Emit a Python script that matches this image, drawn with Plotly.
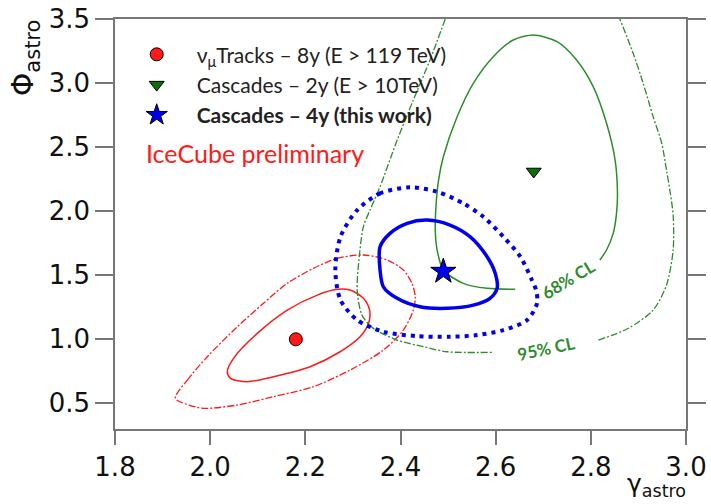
import plotly.graph_objects as go

# ---- best-fit points ----
tracks_x, tracks_y = [2.18], [1.00]
casc2_x, casc2_y = [2.68], [2.31]
casc4_x, casc4_y = [2.49], [1.53]

# ---- contours (gamma, phi) ----
tracks68_x = [2.036, 2.049, 2.099, 2.162, 2.225, 2.267, 2.294, 2.322, 2.335, 2.333, 2.315, 2.273, 2.210, 2.133, 2.078, 2.043, 2.036]
tracks68_y = [0.747, 0.851, 1.046, 1.228, 1.345, 1.390, 1.385, 1.320, 1.228, 1.125, 1.020, 0.903, 0.786, 0.708, 0.669, 0.695, 0.747]

tracks95_x = [1.927, 1.952, 1.994, 2.057, 2.112, 2.162, 2.217, 2.267, 2.322, 2.372, 2.406, 2.424, 2.431, 2.427, 2.406, 2.364, 2.294, 2.217, 2.133, 2.057, 1.994, 1.973, 1.927]
tracks95_y = [0.539, 0.682, 0.864, 1.098, 1.281, 1.437, 1.554, 1.632, 1.658, 1.619, 1.541, 1.437, 1.332, 1.228, 1.072, 0.916, 0.760, 0.630, 0.552, 0.487, 0.461, 0.469, 0.539]

casc4_68_x = [2.357, 2.357, 2.364, 2.393, 2.441, 2.498, 2.553, 2.588, 2.603, 2.599, 2.582, 2.546, 2.504, 2.456, 2.414, 2.378, 2.357]
casc4_68_y = [1.722, 1.541, 1.410, 1.320, 1.254, 1.242, 1.267, 1.320, 1.398, 1.515, 1.644, 1.801, 1.892, 1.931, 1.905, 1.827, 1.722]

casc4_95_x = [2.420, 2.357, 2.309, 2.274, 2.263, 2.274, 2.309, 2.364, 2.435, 2.504, 2.561, 2.616, 2.666, 2.687, 2.685, 2.676, 2.652, 2.616, 2.574, 2.532, 2.477, 2.420]
casc4_95_y = [2.186, 2.139, 2.009, 1.801, 1.541, 1.306, 1.150, 1.059, 1.025, 1.020, 1.033, 1.072, 1.150, 1.281, 1.384, 1.463, 1.644, 1.801, 1.957, 2.061, 2.152, 2.186]

casc2_68_x = [2.641, 2.582, 2.532, 2.490, 2.477, 2.473, 2.475, 2.480, 2.490, 2.519, 2.553, 2.595, 2.637, 2.679, 2.729, 2.770, 2.805, 2.833, 2.851, 2.856, 2.854, 2.847, 2.833, 2.819]
casc2_68_y = [1.390, 1.398, 1.437, 1.541, 1.697, 1.853, 2.061, 2.243, 2.425, 2.737, 2.998, 3.206, 3.336, 3.375, 3.323, 3.180, 2.972, 2.686, 2.399, 2.139, 1.983, 1.827, 1.697, 1.619]

casc2_95a_x = [2.494, 2.462, 2.427, 2.393, 2.357, 2.336, 2.322, 2.312, 2.309, 2.319, 2.343, 2.393, 2.448, 2.498, 2.592]
casc2_95a_y = [3.500, 3.180, 2.868, 2.555, 2.191, 2.009, 1.879, 1.593, 1.384, 1.189, 1.085, 0.994, 0.942, 0.903, 0.898]
casc2_95b_x = [2.816, 2.878, 2.931, 2.959, 2.973, 2.973, 2.966, 2.959, 2.949, 2.931, 2.910, 2.889, 2.861]
casc2_95b_y = [0.994, 1.084, 1.228, 1.423, 1.697, 1.970, 2.165, 2.321, 2.530, 2.737, 2.998, 3.232, 3.500]

x_ticks = [1.8, 2.0, 2.2, 2.4, 2.6, 2.8, 3.0]
y_ticks = [0.5, 1.0, 1.5, 2.0, 2.5, 3.0, 3.5]

RED, GREEN, BLUE = "#ff1a1a", "#2e8b2e", "#0000ee"

fig = go.Figure()

def curve(xs, ys, color, width, dash):
    fig.add_trace(go.Scatter(x=xs, y=ys, mode="lines", showlegend=False, hoverinfo="skip",
                             line=dict(color=color, width=width, dash=dash, shape="spline", smoothing=0.8)))

curve(tracks95_x, tracks95_y, RED, 1.3, "7px,2px,2px,2px")
curve(tracks68_x, tracks68_y, RED, 1.5, "solid")
curve(casc2_95a_x, casc2_95a_y, GREEN, 1.3, "7px,2px,2px,2px")
curve(casc2_95b_x, casc2_95b_y, GREEN, 1.3, "7px,2px,2px,2px")
curve(casc2_68_x, casc2_68_y, GREEN, 1.5, "solid")
curve(casc4_95_x, casc4_95_y, BLUE, 4, "4px,5px")
curve(casc4_68_x, casc4_68_y, BLUE, 3.5, "solid")

fig.add_trace(go.Scatter(x=tracks_x, y=tracks_y, mode="markers",
                         name="ν<sub>μ</sub>Tracks – 8y (E > 119 TeV)",
                         marker=dict(symbol="circle", size=13, color=RED, line=dict(color="black", width=1))))
fig.add_trace(go.Scatter(x=casc2_x, y=casc2_y, mode="markers",
                         name="Cascades – 2y (E > 10TeV)",
                         marker=dict(symbol="triangle-down", size=13, color="#0a6e0a", line=dict(color="black", width=1))))
fig.add_trace(go.Scatter(x=casc4_x, y=casc4_y, mode="markers",
                         name="<b>Cascades – 4y (this work)</b>",
                         marker=dict(symbol="star", size=19, color=BLUE, line=dict(color="black", width=1))))

axis_common = dict(showline=True, linecolor="#777", linewidth=1.5, ticks="outside",
                   tickcolor="#777", tickwidth=1.5, showgrid=False, zeroline=False,
                   automargin=False, ticklabeloverflow="allow",
                   tickfont=dict(family="DejaVu Sans", size=26, color="#111"))

fig.update_xaxes(range=[1.8, 3.0], tickvals=x_ticks, ticktext=[f"{v:.1f}" for v in x_ticks],
                 ticklen=14, mirror=True, **axis_common)
fig.update_yaxes(range=[0.3, 3.5], tickvals=y_ticks, ticktext=[f"{v:.1f}" for v in y_ticks],
                 ticklen=18, mirror="ticks", **axis_common)

annotations = [
    dict(text="IceCube preliminary", x=0.05, y=0.672, xref="paper", yref="paper",
         xanchor="left", yanchor="middle", showarrow=False,
         font=dict(family="Lato", size=25, color=RED)),
    dict(text="68% CL", x=2.752, y=1.47, xref="x", yref="y", textangle=-31,
         showarrow=False, font=dict(family="Lato", size=17, color=GREEN, weight="bold")),
    dict(text="95% CL", x=2.706, y=0.93, xref="x", yref="y", textangle=-12,
         showarrow=False, font=dict(family="Lato", size=17, color=GREEN, weight="bold")),
    dict(text="Φ<sub>astro</sub>", x=-0.157, y=0.905, xref="paper", yref="paper", textangle=-90,
         xanchor="center", yanchor="middle",
         showarrow=False, font=dict(family="DejaVu Sans", size=30, color="#111")),
    dict(text="γ<sub>astro</sub>", x=1.004, y=-0.137, xref="paper", yref="paper",
         xanchor="right", yanchor="middle", showarrow=False,
         font=dict(family="DejaVu Sans", size=25, color="#111")),
]

fig.update_layout(
    width=711, height=504,
    margin=dict(l=114.5, r=25, t=19, b=75, autoexpand=False),
    plot_bgcolor="white", paper_bgcolor="white",
    legend=dict(x=0.003, y=0.963, xanchor="left", yanchor="top",
                font=dict(family="Lato", size=21, color="#222"),
                bgcolor="rgba(0,0,0,0)", itemwidth=70, tracegroupgap=0),
    annotations=annotations,
)

# remove the browser's default 8px body margin so the figure fills the window
fig.write_html("out.html", config={"displayModeBar": False},
               post_script="document.body.style.margin='0px';")
